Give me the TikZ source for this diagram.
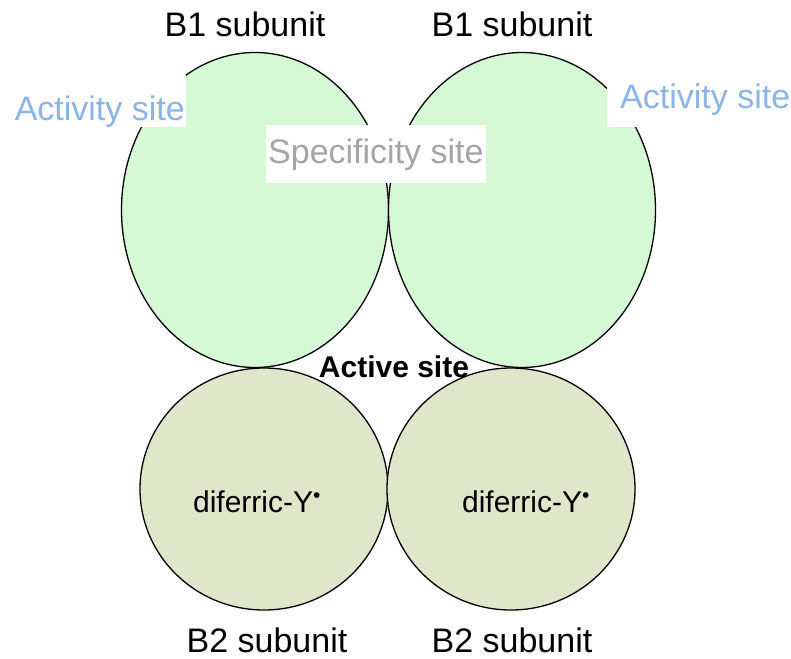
\documentclass[tikz,border=0pt]{standalone}
\usepackage{fontspec}
\setmainfont{Liberation Sans}
\usetikzlibrary{shapes.geometric}
\definecolor{boneGreen}{RGB}{213,248,213}
\definecolor{btwoOlive}{RGB}{223,230,201}
\definecolor{siteBlue}{RGB}{140,180,232}
\definecolor{siteGray}{RGB}{165,165,165}
\tikzset{
  bigunit/.style={ellipse, draw, line width=1.3pt, fill=boneGreen, minimum width=267pt, minimum height=315pt, inner sep=0pt},
  smallunit/.style={ellipse, draw, line width=1.3pt, fill=btwoOlive, minimum width=248pt, minimum height=242pt, inner sep=0pt, font=\fontsize{30}{34}\selectfont},
  unitlabel/.style={anchor=base, inner sep=0pt, font=\fontsize{34}{38}\selectfont},
  sitebox/.style={fill=white, inner ysep=0pt, font=\fontsize{34}{38}\selectfont}
}
\newcommand{\tyrrad}{diferric-Y\textsuperscript{•}}

\begin{document}
\begin{tikzpicture}[x=1pt, y=-1pt]
\useasboundingbox (0,0) rectangle (791,658);
% B1 pair
\node[bigunit] (b1left) at (255,210) {};
\node[bigunit] (b1right) at (522,210) {};
% B2 pair
\node[smallunit] (b2left) at (264,489) {};
\node[smallunit] (b2right) at (511,489) {};
\node[font=\fontsize{30}{34}\selectfont, anchor=base] (radleft) at (257,512) {\tyrrad};
\node[font=\fontsize{30}{34}\selectfont, anchor=base] (radright) at (526,512) {\tyrrad};

% sites
\node[sitebox, text=siteBlue, anchor=base east, inner xsep=1pt, text height=45pt, text depth=7pt] (actleft) at (186,120) {Activity site};
\node[sitebox, text=siteBlue, anchor=base west, inner xsep=13pt, text height=33pt, text depth=19pt] (actright) at (607,108) {Activity site};
\node[sitebox, text=siteGray, anchor=base west, inner xsep=2pt, text height=38pt, text depth=20pt] (spec) at (266,163) {Specificity site};
\node[anchor=base, inner sep=0pt, font=\fontsize{30}{34}\selectfont\bfseries] (active) at (394,377) {Active site};

% subunit labels
\node[unitlabel] (lb1left) at (245,37) {B1 subunit};
\node[unitlabel] (lb1right) at (512,37) {B1 subunit};
\node[unitlabel] (lb2left) at (267,652) {B2 subunit};
\node[unitlabel] (lb2right) at (512,652) {B2 subunit};
\end{tikzpicture}
\end{document}
